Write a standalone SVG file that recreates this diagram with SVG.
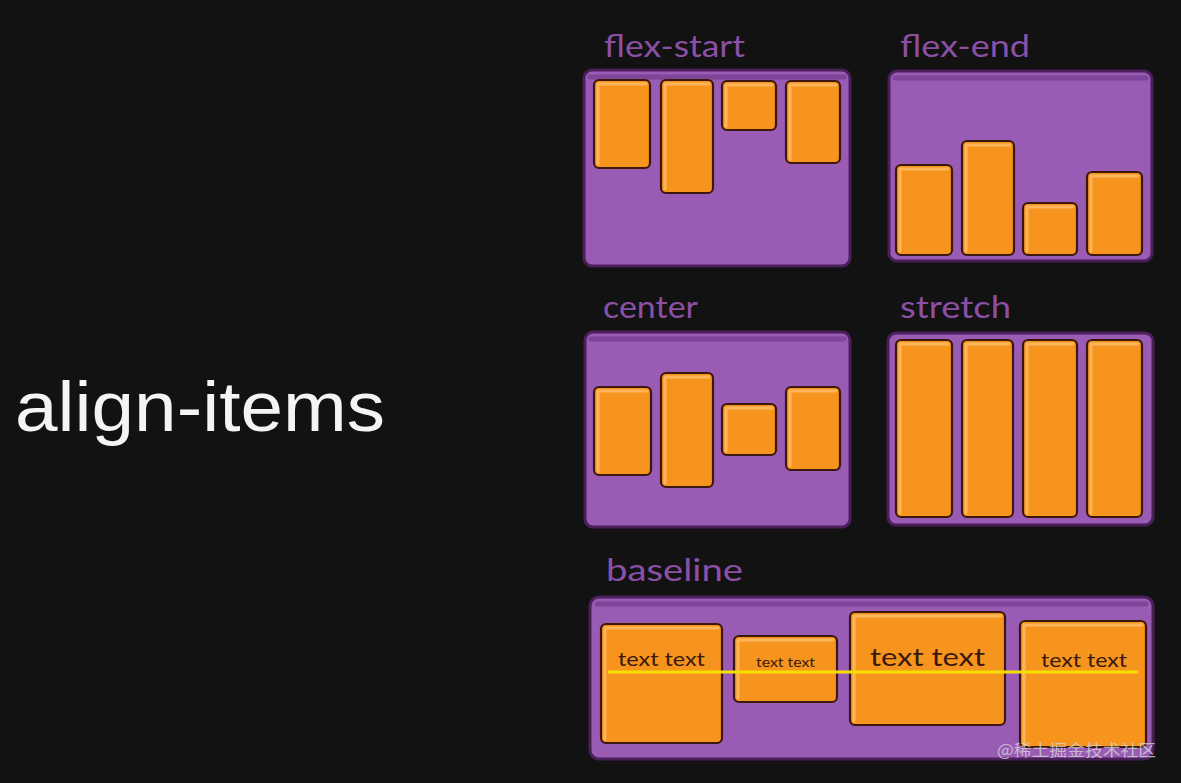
<svg xmlns="http://www.w3.org/2000/svg" width="1181" height="783" viewBox="0 0 1181 783">
<style>
.bg{fill:#121212}
.title{font-family:"Liberation Sans",Arial,sans-serif;font-size:70px;fill:#f4f4f4}
.lbl{font-family:Lato,"Open Sans",sans-serif;font-size:31px;fill:#8b50a6}
.panel{fill:#9a5bb5;stroke:#4a1f5a;stroke-width:3}
.shade{fill:none;stroke:#7f4599;stroke-width:5;stroke-linecap:round}
.item{fill:#f7941d;stroke:#3b170c;stroke-width:2.2}
.hl{fill:none;stroke:#fcb55c;stroke-width:3;stroke-linecap:round;stroke-linejoin:round}
.it{font-family:Lato,"Open Sans",sans-serif;fill:#3a1a0a}
.base{stroke:#f5df00;stroke-width:3}
.wm{font-family:"Noto Sans CJK SC","Noto Sans",sans-serif;font-size:16px;fill:#d8d8d8;opacity:0.75}
</style>
<rect class="bg" x="0" y="0" width="1181" height="783"/>
<text class="title" x="15" y="431" textLength="370" lengthAdjust="spacingAndGlyphs">align-items</text>

<g id="flex-start">
<text class="lbl" x="604" y="57" textLength="141" lengthAdjust="spacingAndGlyphs">flex-start</text>
<rect class="panel" x="584" y="70" width="266" height="196" rx="8"/>
<path class="shade" d="M590 77 H844"/>
<rect class="item" x="594" y="80" width="56" height="88" rx="5"/><path class="hl" d="M598 164 V84 H646"/>
<rect class="item" x="661" y="80" width="52" height="113" rx="5"/><path class="hl" d="M665 189 V84 H709"/>
<rect class="item" x="722" y="81" width="54" height="49" rx="5"/><path class="hl" d="M726 126 V85 H772"/>
<rect class="item" x="786" y="81" width="54" height="82" rx="5"/><path class="hl" d="M790 159 V85 H836"/>
</g>

<g id="flex-end">
<text class="lbl" x="900" y="57" textLength="130" lengthAdjust="spacingAndGlyphs">flex-end</text>
<rect class="panel" x="889" y="71" width="263" height="190" rx="8"/>
<path class="shade" d="M895 78 H1146"/>
<rect class="item" x="896" y="165" width="56" height="90" rx="5"/><path class="hl" d="M900 251 V169 H948"/>
<rect class="item" x="962" y="141" width="52" height="114" rx="5"/><path class="hl" d="M966 251 V145 H1010"/>
<rect class="item" x="1023" y="203" width="54" height="52" rx="5"/><path class="hl" d="M1027 251 V207 H1073"/>
<rect class="item" x="1087" y="172" width="55" height="83" rx="5"/><path class="hl" d="M1091 251 V176 H1138"/>
</g>

<g id="center">
<text class="lbl" x="603" y="318" textLength="95" lengthAdjust="spacingAndGlyphs">center</text>
<rect class="panel" x="585" y="332" width="265" height="195" rx="8"/>
<path class="shade" d="M591 339 H844"/>
<rect class="item" x="594" y="387" width="57" height="88" rx="5"/><path class="hl" d="M598 471 V391 H647"/>
<rect class="item" x="661" y="373" width="52" height="114" rx="5"/><path class="hl" d="M665 483 V377 H709"/>
<rect class="item" x="722" y="404" width="54" height="51" rx="5"/><path class="hl" d="M726 451 V408 H772"/>
<rect class="item" x="786" y="387" width="54" height="83" rx="5"/><path class="hl" d="M790 466 V391 H836"/>
</g>

<g id="stretch">
<text class="lbl" x="900" y="318" textLength="111" lengthAdjust="spacingAndGlyphs">stretch</text>
<rect class="panel" x="888" y="333" width="265" height="192" rx="8"/>
<rect class="item" x="896" y="340" width="56" height="177" rx="5"/><path class="hl" d="M900 513 V344 H948"/>
<rect class="item" x="962" y="340" width="51" height="177" rx="5"/><path class="hl" d="M966 513 V344 H1009"/>
<rect class="item" x="1023" y="340" width="54" height="177" rx="5"/><path class="hl" d="M1027 513 V344 H1073"/>
<rect class="item" x="1087" y="340" width="55" height="177" rx="5"/><path class="hl" d="M1091 513 V344 H1138"/>
</g>

<g id="baseline">
<text class="lbl" x="606" y="581" textLength="137" lengthAdjust="spacingAndGlyphs">baseline</text>
<rect class="panel" x="590" y="597" width="563" height="162" rx="9"/>
<path class="shade" d="M597 604 H1146"/>
<rect class="item" x="601" y="624" width="121" height="119" rx="5"/><path class="hl" d="M605 739 V628 H718"/>
<rect class="item" x="734" y="636" width="103" height="66" rx="5"/><path class="hl" d="M738 698 V640 H833"/>
<rect class="item" x="850" y="612" width="155" height="113" rx="5"/><path class="hl" d="M854 721 V616 H1001"/>
<rect class="item" x="1020" y="621" width="126" height="126" rx="5"/><path class="hl" d="M1024 743 V625 H1142"/>
<text class="it" x="618" y="666" font-size="19" textLength="87" lengthAdjust="spacingAndGlyphs">text text</text>
<text class="it" x="756" y="667" font-size="13" textLength="59" lengthAdjust="spacingAndGlyphs">text text</text>
<text class="it" x="870" y="666" font-size="25" textLength="115" lengthAdjust="spacingAndGlyphs">text text</text>
<text class="it" x="1041" y="667" font-size="19" textLength="86" lengthAdjust="spacingAndGlyphs">text text</text>
</g>

<g id="connectors">
<line class="base" x1="608" y1="672" x2="1138" y2="672"/>
</g>

<text class="wm" x="997" y="756" textLength="159" lengthAdjust="spacingAndGlyphs">@稀土掘金技术社区</text>
</svg>
